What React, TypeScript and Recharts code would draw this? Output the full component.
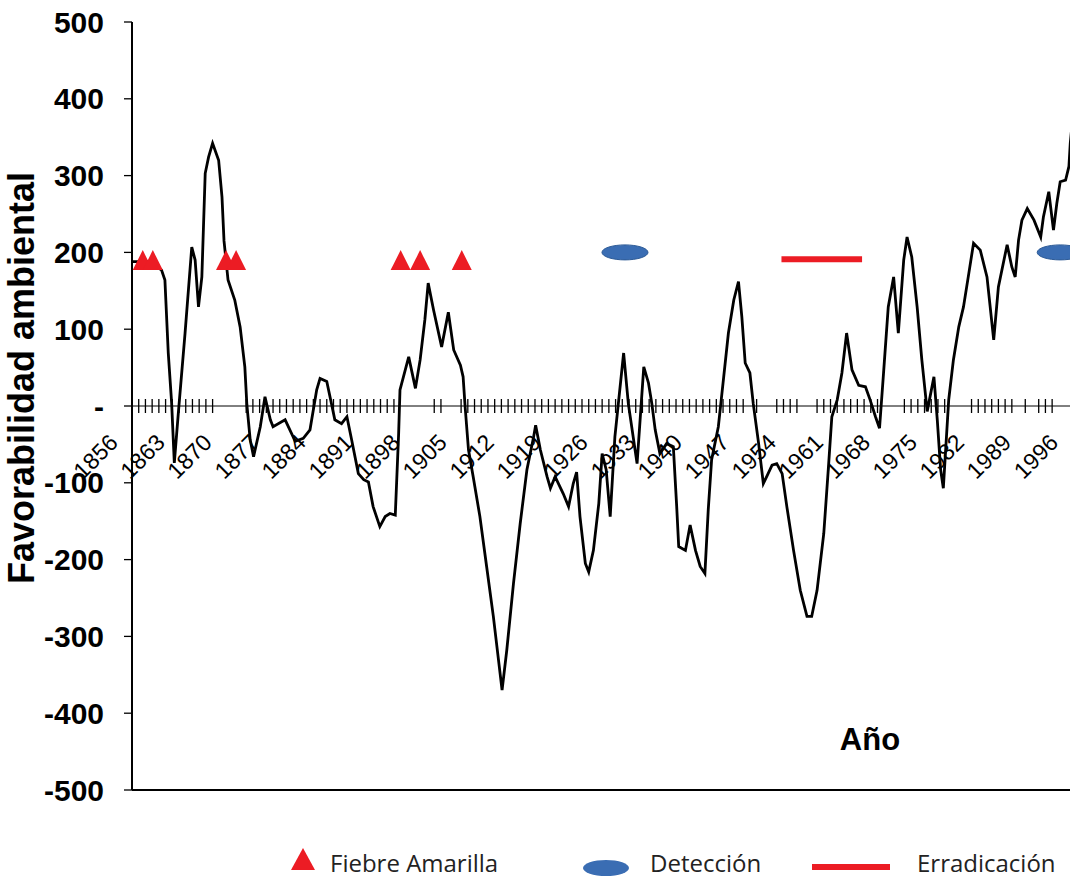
import React from "react";
import {
  ComposedChart,
  Line,
  Scatter,
  XAxis,
  YAxis,
  ReferenceLine,
  Legend,
} from "recharts";

// serie principal (vértices)
const years = [
  1857.1, 1859.7, 1861.4, 1861.9, 1862.4, 1862.9, 1863.3, 1863.9, 1864.9, 1865.9,
  1866.4, 1866.9, 1867.4, 1867.9, 1868.4, 1869.0, 1869.9, 1870.4, 1870.7, 1871.3,
  1872.3, 1873.1, 1873.8, 1874.1, 1874.6, 1875.1, 1876.1, 1876.8, 1877.6, 1878.0,
  1879.8, 1881.3, 1882.5, 1883.5, 1884.5, 1885.0, 1886.0, 1886.7, 1887.2, 1888.2,
  1889.0, 1889.7, 1890.7, 1891.5, 1892.2, 1892.9, 1893.9, 1894.7, 1895.4, 1896.2,
  1896.7, 1896.9, 1898.2, 1899.2, 1899.9, 1900.6, 1901.1, 1901.9, 1903.1, 1904.1,
  1904.9, 1905.9, 1906.3, 1906.6, 1907.1, 1907.8, 1908.8, 1909.8, 1910.8, 1912.1,
  1912.8, 1913.8, 1914.8, 1915.8, 1916.8, 1917.1, 1917.8, 1918.8, 1919.3, 1920.0,
  1921.2, 1922.0, 1922.7, 1923.2, 1923.7, 1924.5, 1925.0, 1925.7, 1926.5, 1927.0,
  1927.6, 1928.2, 1928.9, 1930.2, 1930.9, 1931.9, 1932.2, 1933.2, 1933.9, 1934.4,
  1934.9, 1935.6, 1936.6, 1937.6, 1938.1, 1938.4, 1939.4, 1940.1, 1940.9, 1941.6,
  1942.3, 1942.8, 1943.3, 1944.3, 1945.1, 1945.8, 1946.6, 1947.3, 1947.8, 1948.3,
  1949.0, 1949.5, 1950.3, 1951.0, 1951.5, 1952.3, 1953.0, 1953.8, 1954.5, 1955.5,
  1956.5, 1957.5, 1958.2, 1959.0, 1960.0, 1960.7, 1961.2, 1962.0, 1962.7, 1963.4,
  1964.2, 1965.2, 1966.2, 1966.9, 1967.7, 1968.3, 1968.9, 1969.6, 1970.4, 1971.1,
  1971.9, 1972.4, 1973.1, 1973.9, 1974.6, 1975.4, 1976.4, 1976.9, 1977.4, 1977.8,
  1978.6, 1979.3, 1980.1, 1980.8, 1981.6, 1982.3, 1983.3, 1984.3, 1985.3, 1986.0,
  1987.3, 1988.0, 1988.5, 1989.0, 1989.5, 1990.3, 1991.3, 1992.3, 1992.7, 1993.5,
  1994.2, 1994.7, 1995.2, 1996.0, 1996.5, 1996.7, 1997.0,
];
const favorabilidad = [
  188, 188, 177, 164, 69, 4, -74, -9, 95, 207,
  190, 129, 168, 303, 324, 342, 320, 272, 215, 164,
  138, 103, 51, 2, -44, -66, -27, 12, -18, -27,
  -18, -46, -42, -31, 21, 36, 32, 3, -18, -23,
  -14, -44, -88, -96, -99, -131, -157, -144, -140, -142,
  -36, 21, 64, 23, 60, 112, 160, 125, 77, 122,
  73, 53, 38, -1, -57, -92, -144, -209, -274, -370,
  -318, -231, -153, -83, -40, -25, -57, -92, -107, -92,
  -114, -131, -101, -86, -144, -205, -216, -188, -127, -62,
  -83, -144, -40, 69, 3, -57, -75, 51, 30, 3,
  -31, -62, -49, -53, -131, -183, -188, -155, -188, -209,
  -218, -135, -70, -27, 38, 95, 138, 162, 116, 56,
  43, 3, -49, -101, -92, -77, -75, -88, -131, -188,
  -240, -274, -274, -240, -166, -79, -14, 8, 43, 95,
  47, 27, 25, 8, -14, -29, 43, 129, 168, 95,
  190, 220, 194, 129, 60, -7, 38, -18, -83, -107,
  8, 60, 103, 129, 173, 212, 203, 168, 86, 155,
  210, 181, 168, 216, 242, 257, 242, 220, 246, 279,
  229, 264, 292, 294, 312, 342, 370,
];

// eventos
const fiebreYears = [1858.6, 1860.1, 1871.0, 1872.5, 1897.0, 1899.9, 1906.1];
const fiebreValues = [190, 190, 190, 190, 190, 190, 190];
const deteccionYears = [1930.4, 1995.2];
const deteccionValues = [200, 200];
const erradicacionYears = [1953.7, 1965.7];
const erradicacionValues = [191, 191];

// ejes
const labelYears = [
  1856, 1863, 1870, 1877, 1884, 1891, 1898, 1905, 1912, 1919, 1926,
  1933, 1940, 1947, 1954, 1961, 1968, 1975, 1982, 1989, 1996,
];
const skipMarks = [
  1870, 1871, 1872, 1873, 1897, 1898, 1899, 1900, 1901, 1904, 1905,
  1949, 1951, 1952, 1957, 1958, 1969, 1970, 1971, 1979, 1980, 1981,
  1989, 1991, 1995, 1996, 1997,
];
const markYears = Array.from({ length: 141 }, (_, i) => 1857 + i).filter(
  (y) => !skipMarks.includes(y)
);
const yTicks = [-500, -400, -300, -200, -100, 0, 100, 200, 300, 400, 500];

const serieData = years.map((year, i) => ({ year, value: favorabilidad[i] }));
const fiebreData = fiebreYears.map((year, i) => ({ year, value: fiebreValues[i] }));
const deteccionData = deteccionYears.map((year, i) => ({ year, value: deteccionValues[i] }));
const erradicacionData = erradicacionYears.map((year, i) => ({
  year,
  value: erradicacionValues[i],
}));

const RED = "#ec1c24";
const BLUE = "#3a6db3";
const FONT = "Liberation Sans, Arial, sans-serif";
const TOP = 22;
const PLOT_H = 768;
const ZERO_Y = TOP + PLOT_H / 2;

const allTicks = Array.from(new Set([...labelYears, ...markYears])).sort((a, b) => a - b);

function YearTick(props: any) {
  const { x, payload } = props;
  const yr = payload.value as number;
  const ax = x - 6;
  const ay = ZERO_Y + 38;
  return (
    <g>
      {markYears.includes(yr) && (
        <line x1={x} x2={x} y1={ZERO_Y - 7} y2={ZERO_Y + 7} stroke="#000" strokeWidth={1.3} />
      )}
      {labelYears.includes(yr) && (
        <text
          x={ax}
          y={ay}
          textAnchor="end"
          transform={`rotate(-45, ${ax}, ${ay})`}
          fontFamily={FONT}
          fontSize={23}
          fill="#000"
        >
          {yr}
        </text>
      )}
    </g>
  );
}

const Triangle = (props: any) => {
  const { cx, cy } = props;
  return (
    <polygon
      points={`${cx - 10},${cy + 10} ${cx + 10},${cy + 10} ${cx},${cy - 10}`}
      fill={RED}
    />
  );
};

const Ellipse = (props: any) => {
  const { cx, cy } = props;
  return <ellipse cx={cx} cy={cy} rx={23} ry={7.5} fill={BLUE} stroke="#2c5a96" strokeWidth={1} />;
};

const legendOrder = ["Fiebre Amarilla", "Detección", "Erradicación"];
const legendLeft = [290, 582, 812];

function LegendContent(props: any) {
  const items = [...(props.payload || [])]
    .filter((p: any) => legendOrder.includes(p.value))
    .sort((a: any, b: any) => legendOrder.indexOf(a.value) - legendOrder.indexOf(b.value));
  return (
    <div style={{ position: "relative", width: 1070, height: 40 }}>
      {items.map((item: any, i: number) => (
        <div
          key={item.value}
          style={{
            position: "absolute",
            left: legendLeft[i],
            top: 0,
            display: "flex",
            alignItems: "center",
            height: 40,
            fontFamily: "'Open Sans', sans-serif",
            fontSize: 24,
            color: "#222",
          }}
        >
          {item.value === "Fiebre Amarilla" && (
            <svg width={26} height={24} style={{ marginRight: 14, marginTop: -6 }}>
              <polygon points="1,23 25,23 13,1" fill={RED} />
            </svg>
          )}
          {item.value === "Detección" && (
            <svg width={48} height={18} style={{ marginRight: 20, marginTop: 12 }}>
              <ellipse cx={24} cy={9} rx={23} ry={8} fill={BLUE} />
            </svg>
          )}
          {item.value === "Erradicación" && (
            <svg width={78} height={8} style={{ marginRight: 27, marginTop: 10 }}>
              <rect x={0} y={1} width={78} height={6} fill={RED} />
            </svg>
          )}
          <span style={{ marginTop: 0 }}>{item.value}</span>
        </div>
      ))}
    </div>
  );
}

export default function App() {
  return (
    <div
      style={{
        position: "absolute",
        left: 0,
        top: 0,
        width: 1070,
        height: 877,
        overflow: "hidden",
        background: "#fff",
      }}
    >
      <ComposedChart
        width={1080}
        height={877}
        margin={{ top: TOP, right: 1, bottom: 0, left: 0 }}
      >
        <XAxis
          type="number"
          dataKey="year"
          domain={[1857, 1998]}
          allowDataOverflow
          ticks={allTicks}
          interval={0}
          tick={<YearTick />}
          tickLine={false}
          axisLine={{ stroke: "#000", strokeWidth: 2 }}
          height={87}
          label={(p: any) => {
            const vb = p.viewBox;
            return (
              <text
                x={vb.x + 738}
                y={vb.y - 40}
                textAnchor="middle"
                fontFamily={FONT}
                fontWeight="bold"
                fontSize={31}
                fill="#000"
              >
                Año
              </text>
            );
          }}
        />
        <YAxis
          type="number"
          domain={[-500, 500]}
          ticks={yTicks}
          interval={0}
          width={132}
          tickSize={8}
          tickMargin={20}
          tickFormatter={(v: number) => (v === 0 ? "-" : String(v))}
          tick={{
            fill: "#000",
            fontFamily: FONT,
            fontWeight: "bold",
            fontSize: 30,
          }}
          tickLine={{ stroke: "#000", strokeWidth: 1.3 }}
          axisLine={{ stroke: "#000", strokeWidth: 2 }}
          label={(p: any) => {
            const vb = p.viewBox;
            const cx = vb.x + 21;
            const cy = vb.y + vb.height / 2 - 28;
            return (
              <text
                x={cx}
                y={cy}
                textAnchor="middle"
                dominantBaseline="central"
                transform={`rotate(-90, ${cx}, ${cy})`}
                fontFamily={FONT}
                fontWeight="bold"
                fontSize={36}
                fill="#000"
              >
                Favorabilidad ambiental
              </text>
            );
          }}
        />
        <ReferenceLine y={0} stroke="#000" strokeWidth={1} />
        <Line
          data={serieData}
          dataKey="value"
          type="linear"
          stroke="#000"
          strokeWidth={2.8}
          dot={false}
          legendType="none"
          isAnimationActive={false}
        />
        <Line
          data={erradicacionData}
          dataKey="value"
          name="Erradicación"
          type="linear"
          stroke={RED}
          strokeWidth={6}
          dot={false}
          isAnimationActive={false}
        />
        <Scatter
          data={fiebreData}
          dataKey="value"
          name="Fiebre Amarilla"
          fill={RED}
          shape={<Triangle />}
          isAnimationActive={false}
        />
        <Scatter
          data={deteccionData}
          dataKey="value"
          name="Detección"
          fill={BLUE}
          shape={<Ellipse />}
          isAnimationActive={false}
        />
        <Legend
          layout="horizontal"
          verticalAlign="middle"
          align="center"
          content={<LegendContent />}
          wrapperStyle={{ position: "absolute", left: 0, top: 842, width: 1070 }}
        />
      </ComposedChart>
    </div>
  );
}
